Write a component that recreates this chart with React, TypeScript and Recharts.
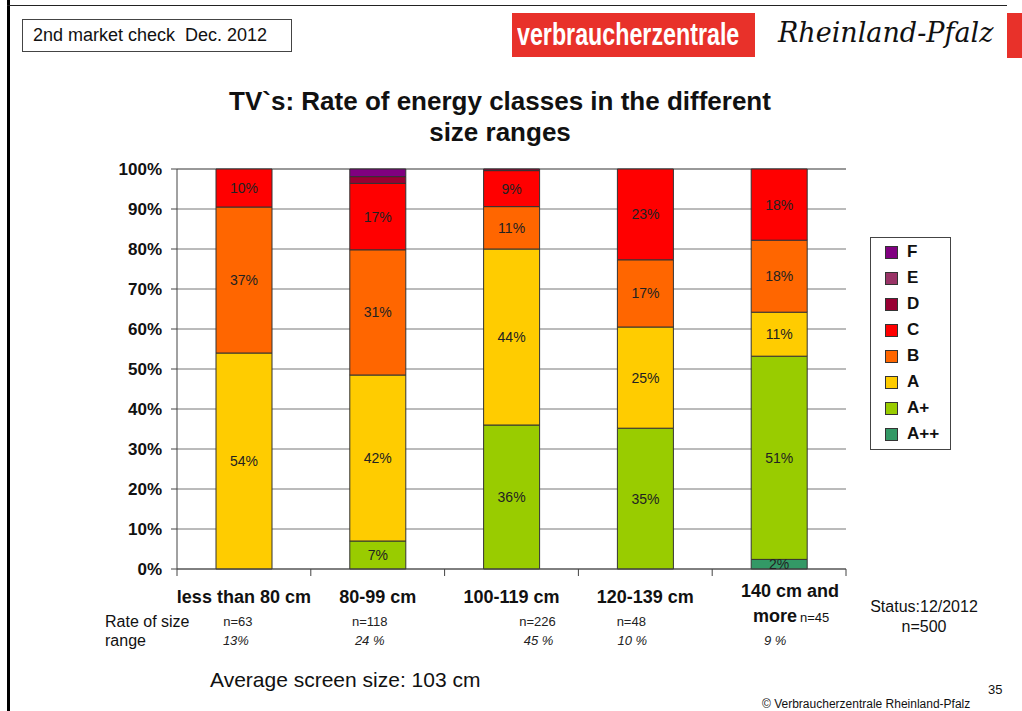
import React from 'react';
import {
  Bar,
  BarChart,
  CartesianGrid,
  LabelList,
  Legend,
  XAxis,
  YAxis,
} from 'recharts';

const CATEGORIES = ['less than 80 cm', '80-99 cm', '100-119 cm', '120-139 cm', '140 cm and more'];

// share of each energy class per size range, in %
const A_PLUS_PLUS = [0, 0, 0, 0, 2.4];
const A_PLUS = [0, 7, 36, 35.2, 50.8];
const CLASS_A = [54, 41.5, 44, 25.3, 11];
const CLASS_B = [36.5, 31.3, 10.6, 16.8, 18];
const CLASS_C = [9.5, 16.6, 9, 22.7, 17.8];
const CLASS_D = [0, 1.7, 0.4, 0, 0];
const CLASS_E = [0, 0, 0, 0, 0];
const CLASS_F = [0, 1.9, 0, 0, 0];

const SIZE_N = [63, 118, 226, 48, 45];
const SIZE_SHARE = ['13%', '24 %', '45 %', '10 %', '9 %'];
const Y_TICKS = [0, 10, 20, 30, 40, 50, 60, 70, 80, 90, 100];

const SERIES = [
  { key: 'A++', values: A_PLUS_PLUS, color: '#339966' },
  { key: 'A+', values: A_PLUS, color: '#99CC00' },
  { key: 'A', values: CLASS_A, color: '#FFCC00' },
  { key: 'B', values: CLASS_B, color: '#FF6600' },
  { key: 'C', values: CLASS_C, color: '#FF0000' },
  { key: 'D', values: CLASS_D, color: '#990033' },
  { key: 'E', values: CLASS_E, color: '#993366' },
  { key: 'F', values: CLASS_F, color: '#800080' },
];

const data = CATEGORIES.map((name, i) => {
  const row: Record<string, string | number> = { name };
  SERIES.forEach((s) => {
    row[s.key] = s.values[i];
  });
  return row;
});

const FONT = '"Liberation Sans", Arial, sans-serif';
const PLOT_W = 669;
const BAND = PLOT_W / CATEGORIES.length;
// small horizontal nudges of the n= / share labels, as on the slide
const N_DX = [-6, -8, 26, -14, 0];
const SHARE_DX = [-8, -8, 27, -13, -4];

function CategoryTick(props: any) {
  const { x, y, payload, index } = props;
  const last = index === CATEGORIES.length - 1;
  return (
    <g fontFamily={FONT}>
      <line x1={x - BAND / 2} x2={x - BAND / 2} y1={y} y2={y + 7} stroke="#444" />
      {last && <line x1={x + BAND / 2} x2={x + BAND / 2} y1={y} y2={y + 7} stroke="#444" />}
      {last ? (
        <>
          <text x={x + 11} y={y + 28} textAnchor="middle" fontSize={18} fontWeight="bold" fill="#111">
            140 cm and
          </text>
          <text x={x + 12} y={y + 53} textAnchor="middle" fill="#111">
            <tspan fontSize={18} fontWeight="bold">more</tspan>
            <tspan fontSize={13} dx={3}>n={SIZE_N[index]}</tspan>
          </text>
        </>
      ) : (
        <>
          <text x={x} y={y + 34} textAnchor="middle" fontSize={18} fontWeight="bold" fill="#111">
            {payload.value}
          </text>
          <text x={x + N_DX[index]} y={y + 57} textAnchor="middle" fontSize={13} fill="#222">
            n={SIZE_N[index]}
          </text>
        </>
      )}
      <text x={x + SHARE_DX[index]} y={y + 76} textAnchor="middle" fontSize={13} fontStyle="italic" fill="#222">
        {SIZE_SHARE[index]}
      </text>
    </g>
  );
}

function LegendBox() {
  const items = [...SERIES].reverse();
  return (
    <div
      style={{
        width: 81,
        height: 213,
        border: '1.5px solid #444',
        boxSizing: 'border-box',
        paddingTop: 1,
        fontFamily: FONT,
        background: '#fff',
      }}
    >
      {items.map((it) => (
        <div key={it.key} style={{ display: 'flex', alignItems: 'center', height: 26, paddingLeft: 14 }}>
          <span
            style={{
              width: 11,
              height: 11,
              background: it.color,
              border: '1px solid #333',
              marginRight: 9,
            }}
          />
          <span style={{ fontSize: 17, fontWeight: 'bold', color: '#111' }}>{it.key}</span>
        </div>
      ))}
    </div>
  );
}

const pctLabel = (v: any) => (Number(v) >= 2 ? `${Math.round(Number(v))}%` : '');

function EnergyClassChart() {
  return (
    <div
      style={{
        position: 'absolute',
        left: 0,
        top: 0,
        width: 1022,
        height: 711,
        background: '#fff',
        fontFamily: FONT,
        overflow: 'hidden',
      }}
    >
      <div style={{ position: 'absolute', left: 7, top: 0, width: 3, height: 711, background: '#000' }} />
      <div style={{ position: 'absolute', left: 7, top: 5, width: 1000, height: 1, background: '#222' }} />
      <div
        style={{
          position: 'absolute',
          left: 22,
          top: 19,
          width: 270,
          height: 33,
          border: '1px solid #444',
          boxSizing: 'border-box',
          fontSize: 18,
          lineHeight: '31px',
          paddingLeft: 10,
          color: '#111',
          whiteSpace: 'pre',
        }}
      >
        {'2nd market check  Dec. 2012'}
      </div>
      <div
        style={{
          position: 'absolute',
          left: 512,
          top: 13,
          width: 243,
          height: 44,
          background: '#E8312A',
          overflow: 'hidden',
        }}
      >
        <span
          style={{
            display: 'inline-block',
            color: '#fff',
            fontWeight: 'bold',
            fontSize: 31,
            lineHeight: '44px',
            whiteSpace: 'nowrap',
            transform: 'scaleX(0.75)',
            transformOrigin: 'left center',
            marginLeft: 5,
          }}
        >
          verbraucherzentrale
        </span>
      </div>
      <div
        style={{
          position: 'absolute',
          left: 778,
          top: 17,
          fontFamily: '"DejaVu Serif", serif',
          fontStyle: 'italic',
          fontSize: 27,
          color: '#111',
          whiteSpace: 'nowrap',
        }}
      >
        Rheinland-Pfalz
      </div>
      <div style={{ position: 'absolute', left: 1007, top: 13, width: 15, height: 45, background: '#E8312A' }} />
      <div
        style={{
          position: 'absolute',
          left: 180,
          top: 86,
          width: 640,
          textAlign: 'center',
          fontSize: 26,
          fontWeight: 'bold',
          lineHeight: '31px',
          color: '#111',
        }}
      >
        TV`s: Rate of energy classes in the different
        <br />
        size ranges
      </div>

      <div style={{ position: 'absolute', left: 0, top: 0 }}>
        <BarChart
          width={1022}
          height={711}
          data={data}
          margin={{ top: 169, right: 176, left: 117, bottom: 52 }}
          barSize={56}
        >
          <CartesianGrid vertical={false} stroke="#777" />
          <XAxis
            dataKey="name"
            height={90}
            interval={0}
            tickLine={false}
            tickSize={0}
            tickMargin={0}
            axisLine={{ stroke: '#444' }}
            tick={<CategoryTick />}
          />
          <YAxis
            width={60}
            domain={[0, 100]}
            ticks={Y_TICKS}
            interval={0}
            tickSize={6}
            tickMargin={9}
            axisLine={{ stroke: '#444' }}
            tickLine={{ stroke: '#444' }}
            tickFormatter={(v) => `${v}%`}
            tick={{ fill: '#111', fontSize: 17, fontWeight: 'bold', fontFamily: FONT }}
          />
          <Legend
            layout="horizontal"
            verticalAlign="middle"
            align="center"
            content={<LegendBox />}
            wrapperStyle={{ left: 870, top: 237, width: 81, right: 'auto', bottom: 'auto' }}
          />
          {SERIES.map((s) => (
            <Bar
              key={s.key}
              dataKey={s.key}
              stackId="classes"
              fill={s.color}
              stroke="#333"
              strokeWidth={1}
              isAnimationActive={false}
            >
              <LabelList
                dataKey={s.key}
                position="center"
                formatter={pctLabel}
                fill="#222"
                fontSize={14}
                fontFamily={FONT}
              />
            </Bar>
          ))}
        </BarChart>
      </div>

      <div style={{ position: 'absolute', left: 105, top: 612, fontSize: 16, lineHeight: '19px', color: '#111' }}>
        Rate of size
        <br />
        range
      </div>
      <div
        style={{
          position: 'absolute',
          left: 864,
          top: 597,
          width: 120,
          textAlign: 'center',
          fontSize: 16,
          lineHeight: '20px',
          color: '#111',
        }}
      >
        Status:12/2012
        <br />
        n=500
      </div>
      <div style={{ position: 'absolute', left: 210, top: 668, fontSize: 21, color: '#111' }}>
        Average screen size: 103 cm
      </div>
      <div style={{ position: 'absolute', left: 988, top: 682, fontSize: 13, color: '#111' }}>35</div>
      <div style={{ position: 'absolute', left: 762, top: 697, fontSize: 12, color: '#111' }}>
        © Verbraucherzentrale Rheinland-Pfalz
      </div>
    </div>
  );
}

export default function App() {
  return <EnergyClassChart />;
}
